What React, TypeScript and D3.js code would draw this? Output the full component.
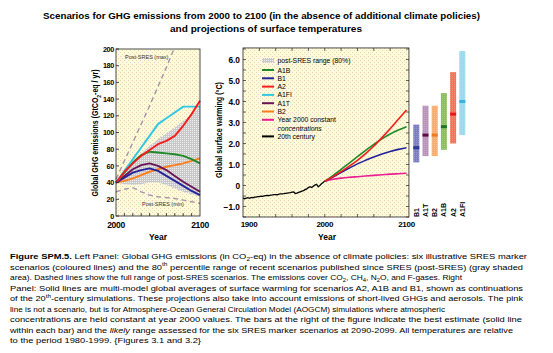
import React, { useEffect, useRef } from "react";
import * as d3 from "d3";

// Left panel: GHG emissions (GtCO2-eq / yr), one value per decade
const emYears = [2000, 2010, 2020, 2030, 2040, 2050, 2060, 2070, 2080, 2090, 2100];
const emA1B = [40, 52, 64, 73, 77, 76, 75, 74, 72, 68, 63];
const emB1 = [40, 46, 52, 55, 57, 54, 48, 42, 36, 30, 25];
const emA2 = [40, 53, 63, 72, 79, 86, 90, 96, 108, 122, 138];
const emA1FI = [40, 54, 68, 82, 96, 110, 117, 124, 131, 131, 131];
const emA1T = [40, 48, 56, 61, 63, 60, 55, 48, 41, 35, 29];
const emB2 = [40, 42, 45, 49, 53, 56, 59, 61, 63, 66, 69];
const rangeHigh = [40, 52, 64, 75, 84, 92, 99, 106, 114, 122, 131];
const rangeLow = [40, 38, 37, 38, 40, 40, 37, 33, 29, 26, 23];
const maxYears = [2000, 2010, 2020, 2030, 2040, 2050, 2060, 2069];
const postSresMax = [44, 66, 88, 110, 132, 155, 178, 200];
const postSresMin = [29, 32, 34, 29, 25, 23, 22, 21, 19, 17, 15];

// Right panel: warming (deg C) relative to 1980-1999
const histYears = [1900, 1902, 1904, 1906, 1908, 1910, 1912, 1914, 1916, 1918, 1920, 1922, 1924, 1926, 1928, 1930, 1932, 1934, 1936, 1938, 1940, 1942, 1944, 1946, 1948, 1950, 1952, 1954, 1956, 1958, 1960, 1962, 1964, 1966, 1968, 1970, 1972, 1974, 1976, 1978, 1980, 1982, 1984, 1986, 1988, 1990, 1992, 1994, 1996, 1998, 2000];
const hist20th = [-0.6, -0.63, -0.6, -0.58, -0.61, -0.57, -0.59, -0.55, -0.55, -0.53, -0.53, -0.51, -0.52, -0.49, -0.48, -0.47, -0.48, -0.46, -0.45, -0.43, -0.43, -0.44, -0.41, -0.4, -0.4, -0.39, -0.37, -0.36, -0.35, -0.34, -0.32, -0.31, -0.38, -0.36, -0.33, -0.3, -0.27, -0.24, -0.2, -0.16, -0.1, -0.06, -0.1, -0.04, 0.02, 0.06, -0.06, 0.0, 0.08, 0.14, 0.22];
const projYears = [2000, 2010, 2020, 2030, 2040, 2050, 2060, 2070, 2080, 2090, 2100];
const tA2 = [0.2, 0.42, 0.66, 0.92, 1.2, 1.52, 1.88, 2.28, 2.7, 3.15, 3.6];
const tA1B = [0.2, 0.47, 0.77, 1.07, 1.37, 1.67, 1.96, 2.22, 2.45, 2.64, 2.8];
const tB1 = [0.2, 0.4, 0.62, 0.83, 1.03, 1.2, 1.36, 1.5, 1.62, 1.72, 1.8];
const tConst = [0.2, 0.3, 0.35, 0.39, 0.42, 0.45, 0.48, 0.51, 0.54, 0.56, 0.58];

// Bars: best estimate and likely range at 2090-2099
const barNames = ["B1", "A1T", "B2", "A1B", "A2", "A1FI"];
const barBest = [1.8, 2.4, 2.4, 2.8, 3.4, 4.0];
const barLow = [1.1, 1.4, 1.4, 1.7, 2.0, 2.4];
const barHigh = [2.9, 3.8, 3.8, 4.4, 5.4, 6.4];

const legendNames = ["A1B", "B1", "A2", "A1FI", "A1T", "B2", "Year 2000 constant", "20th century"];

const col: Record<string, string> = {
  A1B: "#1f8a2a", B1: "#24249a", A2: "#f41c1c", A1FI: "#2ec8e6",
  A1T: "#6a1458", B2: "#ff7d1a", "Year 2000 constant": "#ec1e96", "20th century": "#000000",
};
const barFill: Record<string, string> = {
  B1: "#7c7cc0", A1T: "#b894b8", B2: "#f9ac6c", A1B: "#8cbe60", A2: "#f27456", A1FI: "#96daee",
};
const barMark: Record<string, string> = {
  B1: "#2a3a9c", A1T: "#5c0f40", B2: "#f07a1c", A1B: "#1a7428", A2: "#f01414", A1FI: "#3ab4dc",
};

type Seg = { t: string; b?: boolean; i?: boolean; sub?: boolean; sup?: boolean };
const titleLines: [string, number, number][] = [
  ["Scenarios for GHG emissions from 2000 to 2100 (in the absence of additional climate policies)", 43, 480],
  ["and projections of surface temperatures", 170, 362],
];
const captionLines: Seg[][] = [
  [{ t: "Figure SPM.5.", b: true }, { t: " Left Panel: Global GHG emissions (in CO" }, { t: "2", sub: true }, { t: "-eq) in the absence of climate policies: six illustrative SRES marker" }],
  [{ t: "scenarios (coloured lines) and the 80" }, { t: "th", sup: true }, { t: " percentile range of recent scenarios published since SRES (post-SRES) (gray shaded" }],
  [{ t: "area). Dashed lines show the full range of post-SRES scenarios. The emissions cover CO" }, { t: "2", sub: true }, { t: ", CH" }, { t: "4", sub: true }, { t: ", N" }, { t: "2", sub: true }, { t: "O, and F-gases. Right" }],
  [{ t: "Panel: Solid lines are multi-model global averages of surface warming for scenarios A2, A1B and B1, shown as continuations" }],
  [{ t: "of the 20" }, { t: "th", sup: true }, { t: "-century simulations. These projections also take into account emissions of short-lived GHGs and aerosols. The pink" }],
  [{ t: "line is not a scenario, but is for Atmosphere-Ocean General Circulation Model (AOGCM) simulations where atmospheric" }],
  [{ t: "concentrations are held constant at year 2000 values. The bars at the right of the figure indicate the best estimate (solid line" }],
  [{ t: "within each bar) and the " }, { t: "likely", i: true }, { t: " range assessed for the six SRES marker scenarios at 2090-2099. All temperatures are relative" }],
  [{ t: "to the period 1980-1999. {Figures 3.1 and 3.2}" }],
];
const captionEnds = [527, 523, 462, 523, 523, 445, 522, 513, 201];

const FONT = "'Liberation Sans', Arial, Helvetica, sans-serif";

function richText(el: any, segs: Seg[], size: number) {
  let off = 0;
  segs.forEach((s) => {
    const shift = s.sub ? size * 0.3 : s.sup ? -size * 0.4 : 0;
    el.append("tspan")
      .attr("dy", shift - off)
      .attr("font-size", s.sub || s.sup ? size * 0.7 : size)
      .attr("font-weight", s.b ? "bold" : null)
      .attr("font-style", s.i ? "italic" : null)
      .text(s.t);
    off = shift;
  });
}

export default function App() {
  const svgRef = useRef<SVGSVGElement>(null);

  useEffect(() => {
    const svg = d3.select(svgRef.current);
    svg.selectAll("*").remove();
    svg.attr("font-family", FONT);

    // patterns
    const defs = svg.append("defs");
    const bg = defs.append("pattern").attr("id", "bgDots").attr("width", 4).attr("height", 4).attr("patternUnits", "userSpaceOnUse");
    bg.append("rect").attr("width", 4).attr("height", 4).attr("fill", "#fffbd4");
    bg.append("rect").attr("x", 0).attr("y", 0).attr("width", 1).attr("height", 1).attr("fill", "#f0ccc8");
    bg.append("rect").attr("x", 2).attr("y", 2).attr("width", 1).attr("height", 1).attr("fill", "#d8d8d0");
    const gr = defs.append("pattern").attr("id", "grayDots").attr("width", 2).attr("height", 2).attr("patternUnits", "userSpaceOnUse");
    gr.append("rect").attr("width", 2).attr("height", 2).attr("fill", "#c8c8c8");
    gr.append("rect").attr("width", 1).attr("height", 1).attr("fill", "#f0f0f0");
    const bd = defs.append("pattern").attr("id", "barDots").attr("width", 2).attr("height", 2).attr("patternUnits", "userSpaceOnUse");
    bd.append("rect").attr("width", 1).attr("height", 1).attr("fill", "#ffffff").attr("opacity", 0.2);

    // TITLE
    titleLines.forEach(([txt, x0, x1], i) => {
      svg.append("text")
        .attr("x", x0).attr("y", 18.5 + i * 13.3)
        .attr("font-size", 9.5).attr("font-weight", "bold")
        .attr("textLength", x1 - x0).attr("lengthAdjust", "spacingAndGlyphs")
        .text(txt);
    });

    // ===== LEFT PANEL =====
    const xE = d3.scaleLinear().domain([2000, 2100]).range([116, 200]);
    const yE = d3.scaleLinear().domain([0, 200]).range([216, 49]);
    const L = svg.append("g");
    L.append("rect").attr("x", xE(2000)).attr("y", yE(200)).attr("width", xE(2100) - xE(2000)).attr("height", yE(0) - yE(200)).attr("fill", "url(#bgDots)");

    const area = d3.area<number>()
      .x((d, i) => xE(emYears[i]))
      .y0((d, i) => yE(rangeLow[i]))
      .y1((d) => yE(d));
    L.append("path").datum(rangeHigh).attr("d", area).attr("fill", "url(#grayDots)");

    const dash = (ys: number[], vs: number[]) =>
      L.append("path")
        .datum(vs)
        .attr("d", d3.line<number>().x((d, i) => xE(ys[i])).y((d) => yE(d)))
        .attr("fill", "none").attr("stroke", "#a496a8").attr("stroke-width", 1.4).attr("stroke-dasharray", "5,3.5");
    dash(maxYears, postSresMax);
    dash(emYears, postSresMin);

    L.append("text").attr("x", 125).attr("y", 59).attr("font-size", 5.5).attr("fill", "#333").text("Post-SRES (max)");
    L.append("text").attr("x", 142).attr("y", 206).attr("font-size", 5.5).attr("fill", "#333").text("Post-SRES (min)");

    const emLine = d3.line<number>().x((d, i) => xE(emYears[i])).y((d) => yE(d));
    const emSeries: [string, number[]][] = [["B2", emB2], ["B1", emB1], ["A1T", emA1T], ["A1B", emA1B], ["A1FI", emA1FI], ["A2", emA2]];
    emSeries.forEach(([name, vals]) => {
      L.append("path").datum(vals).attr("d", emLine)
        .attr("fill", "none").attr("stroke", col[name]).attr("stroke-width", 1.9).attr("stroke-linejoin", "round");
    });

    L.append("rect").attr("x", xE(2000)).attr("y", yE(200)).attr("width", xE(2100) - xE(2000)).attr("height", yE(0) - yE(200))
      .attr("fill", "none").attr("stroke", "#222").attr("stroke-width", 0.8);

    d3.range(0, 201, 20).forEach((v) => {
      L.append("line").attr("x1", xE(2000)).attr("x2", xE(2000) + 3).attr("y1", yE(v)).attr("y2", yE(v)).attr("stroke", "#222").attr("stroke-width", 0.8);
      L.append("text").attr("x", 114).attr("y", yE(v) + 2.6).attr("text-anchor", "end")
        .attr("font-size", 7.2).attr("font-weight", "bold").attr("letter-spacing", -0.3).text(v);
    });
    d3.range(2010, 2100, 10).forEach((yr) => {
      L.append("line").attr("x1", xE(yr)).attr("x2", xE(yr)).attr("y1", yE(0)).attr("y2", yE(0) - 3).attr("stroke", "#222").attr("stroke-width", 0.8);
    });
    [2000, 2100].forEach((yr) => {
      L.append("text").attr("x", xE(yr)).attr("y", 228).attr("text-anchor", "middle")
        .attr("font-size", 8.5).attr("font-weight", "bold").attr("letter-spacing", -0.3).text(yr);
    });
    L.append("text").attr("x", 158).attr("y", 240).attr("text-anchor", "middle").attr("font-size", 8.5).attr("font-weight", "bold").text("Year");

    const yt = L.append("text").attr("transform", "translate(98,133) rotate(-90)").attr("text-anchor", "middle")
      .attr("font-weight", "bold").attr("textLength", 127).attr("lengthAdjust", "spacingAndGlyphs");
    richText(yt, [{ t: "Global GHG emissions (GtCO" }, { t: "2", sub: true }, { t: "-eq / yr)" }], 8.5);

    // ===== RIGHT PANEL =====
    const xT = d3.scaleLinear().domain([1900, 2100]).range([243, 406.5]);
    const yT = d3.scaleLinear().domain([-1, 6]).range([206.5, 59.5]);
    const R = svg.append("g");
    const rx0 = xT(1900), rx1 = xT(2103), ry0 = yT(6.55), ry1 = yT(-1.5);
    R.append("rect").attr("x", rx0).attr("y", ry0).attr("width", rx1 - rx0).attr("height", ry1 - ry0).attr("fill", "url(#bgDots)");

    // legend
    const lg = R.append("g");
    lg.append("rect").attr("x", 262).attr("y", 58).attr("width", 12).attr("height", 5).attr("fill", "url(#grayDots)");
    lg.append("text").attr("x", 277.5).attr("y", 63).attr("font-size", 6.8).text("post-SRES range (80%)");
    legendNames.forEach((name, i) => {
      const y = 70 + i * 8.3 + (i === 7 ? 8.3 : 0);
      lg.append("line").attr("x1", 262).attr("x2", 274).attr("y1", y).attr("y2", y).attr("stroke", col[name]).attr("stroke-width", 2);
      lg.append("text").attr("x", 277.5).attr("y", y + 2.5).attr("font-size", 6.8).text(name);
    });
    lg.append("text").attr("x", 277.5).attr("y", 70 + 6 * 8.3 + 10.8).attr("font-size", 6.8).attr("font-style", "italic").text("concentrations");

    const hLine = d3.line<number>().x((d, i) => xT(histYears[i])).y((d) => yT(d));
    R.append("path").datum(hist20th).attr("d", hLine).attr("fill", "none").attr("stroke", "#000").attr("stroke-width", 1.3);
    const pLine = d3.line<number>().x((d, i) => xT(projYears[i])).y((d) => yT(d)).curve(d3.curveMonotoneX);
    const tSeries: [string, number[]][] = [["Year 2000 constant", tConst], ["B1", tB1], ["A1B", tA1B], ["A2", tA2]];
    tSeries.forEach(([name, vals]) => {
      R.append("path").datum(vals).attr("d", pLine).attr("fill", "none").attr("stroke", col[name]).attr("stroke-width", 1.6);
    });

    R.append("rect").attr("x", rx0).attr("y", ry0).attr("width", rx1 - rx0).attr("height", ry1 - ry0)
      .attr("fill", "none").attr("stroke", "#222").attr("stroke-width", 0.8);
    d3.range(-1.5, 6.51, 0.5).forEach((v) => {
      R.append("line").attr("x1", rx0).attr("x2", rx0 + 3).attr("y1", yT(v)).attr("y2", yT(v)).attr("stroke", "#222").attr("stroke-width", 0.7);
      R.append("line").attr("x1", rx1).attr("x2", rx1 - 3).attr("y1", yT(v)).attr("y2", yT(v)).attr("stroke", "#222").attr("stroke-width", 0.7);
    });
    d3.range(-1, 6.01, 1).forEach((v) => {
      R.append("text").attr("x", 240).attr("y", yT(v) + 3).attr("text-anchor", "end")
        .attr("font-size", 8.3).attr("font-weight", "bold")
        .text(v === 0 ? "0" : v < 0 ? "\u22121.0" : v.toFixed(1));
    });
    d3.range(1920, 2100, 20).forEach((yr) => {
      R.append("line").attr("x1", xT(yr)).attr("x2", xT(yr)).attr("y1", ry1).attr("y2", ry1 - 3).attr("stroke", "#222").attr("stroke-width", 0.7);
      R.append("line").attr("x1", xT(yr)).attr("x2", xT(yr)).attr("y1", ry0).attr("y2", ry0 + 3).attr("stroke", "#222").attr("stroke-width", 0.7);
    });
    [1900, 2000, 2100].forEach((yr) => {
      R.append("text").attr("x", yr === 1900 ? xT(yr) + 6 : xT(yr)).attr("y", 227).attr("text-anchor", "middle")
        .attr("font-size", 8).attr("font-weight", "bold").attr("letter-spacing", -0.3).text(yr);
    });
    R.append("text").attr("x", 327).attr("y", 240).attr("text-anchor", "middle").attr("font-size", 8.5).attr("font-weight", "bold").text("Year");
    R.append("text").attr("transform", "translate(222,130) rotate(-90)").attr("text-anchor", "middle")
      .attr("font-size", 8.5).attr("font-weight", "bold").attr("textLength", 96).attr("lengthAdjust", "spacingAndGlyphs")
      .text("Global surface warming (\u00b0C)");

    // bars
    const xb = d3.scalePoint<string>().domain(barNames).range([416.3, 462.3]);
    barNames.forEach((name, i) => {
      const cx = xb(name) as number;
      R.append("rect").attr("x", cx - 3).attr("y", yT(barHigh[i])).attr("width", 6).attr("height", yT(barLow[i]) - yT(barHigh[i])).attr("fill", barFill[name]);
      R.append("rect").attr("x", cx - 3).attr("y", yT(barHigh[i])).attr("width", 6).attr("height", yT(barLow[i]) - yT(barHigh[i])).attr("fill", "url(#barDots)");
      R.append("rect").attr("x", cx - 3).attr("y", yT(barBest[i]) - 1.5).attr("width", 6).attr("height", 3).attr("fill", barMark[name]);
      R.append("text").attr("transform", `translate(${cx + 2.5},217) rotate(-90)`).attr("font-size", 7).attr("font-weight", "bold").text(name);
    });

    // CAPTION
    captionLines.forEach((segs, i) => {
      const t = svg.append("text").attr("x", 10).attr("y", 259 + i * 10.5)
        .attr("textLength", captionEnds[i] - 10).attr("lengthAdjust", "spacingAndGlyphs");
      richText(t, segs, 8);
    });
  }, []);

  return (
    <svg ref={svgRef} width={553} height={353} style={{ position: "absolute", left: 0, top: 0, background: "#fff" }}></svg>
  );
}
